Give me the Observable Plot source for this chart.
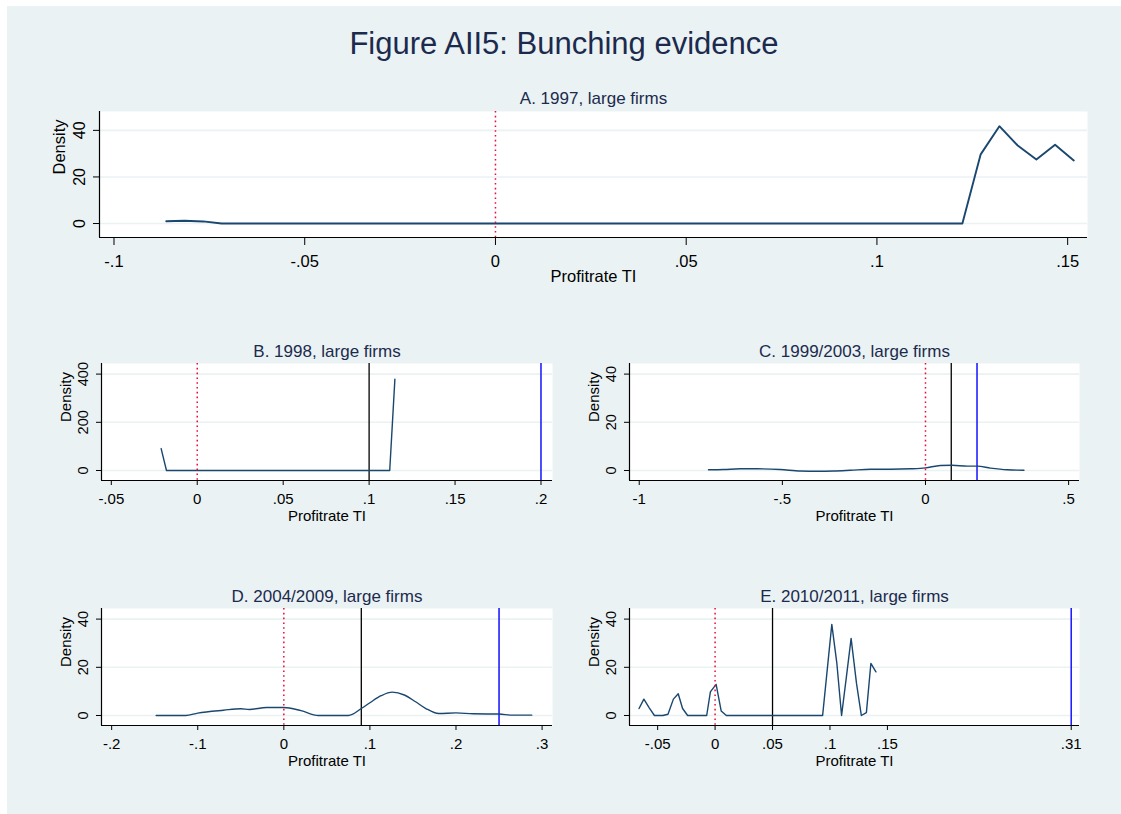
<!DOCTYPE html>
<html>
<head>
<meta charset="utf-8">
<script src="https://cdn.jsdelivr.net/npm/d3@7"></script>
<script src="https://cdn.jsdelivr.net/npm/@observablehq/plot@0.6"></script>
<style>
  html, body { margin: 0; padding: 0; background: #ffffff; }
  #page { position: relative; width: 1121px; height: 814px; overflow: hidden; background: #ffffff;
          font-family: "Liberation Sans", Arial, Helvetica, sans-serif; }
  #bg { position: absolute; left: 7px; top: 6px; width: 1114px; height: 808px; background: #eaf2f3; }
  #title { position: absolute; left: 7px; width: 1114px; top: 28px; text-align: center;
           font-size: 31px; line-height: 31px; color: #1c2a4e; }
  .panel { position: absolute; }
</style>
</head>
<body>
<div id="page">
  <div id="bg"></div>
  <div id="title">Figure AII5: Bunching evidence</div>
</div>
<script>
// ---------------- data ----------------
const panelTitles = ["A. 1997, large firms", "B. 1998, large firms", "C. 1999/2003, large firms",
                     "D. 2004/2009, large firms", "E. 2010/2011, large firms"];
const xTitle = "Profitrate TI";
const yTitle = "Density";

// A. 1997
const aX = [-0.0863, -0.0815, -0.0766, -0.0718, 0.1224, 0.1272, 0.1321, 0.1369, 0.1418, 0.1467, 0.1516];
const aY = [1.0, 1.2, 0.9, 0, 0, 29.7, 41.8, 33.5, 27.5, 33.8, 27.1];
const aXTicks = [-0.1, -0.05, 0, 0.05, 0.1, 0.15];
const aYTicks = [0, 20, 40];
const aBlack = [];
const aBlue = [];

// B. 1998
const bX = [-0.0210, -0.0179, 0.1120, 0.1150];
const bY = [91, 0, 0, 379];
const bXTicks = [-0.05, 0, 0.05, 0.1, 0.15, 0.2];
const bYTicks = [0, 200, 400];
const bBlack = [0.1];
const bBlue = [0.2];

// C. 1999/2003
const cX = [-0.758, -0.705, -0.647, -0.589, -0.507, -0.437, -0.379, -0.321, -0.262, -0.192,
            -0.122, -0.052, 0, 0.052, 0.093, 0.146, 0.181, 0.227, 0.286, 0.344];
const cY = [0.3, 0.4, 0.7, 0.7, 0.4, -0.2, -0.3, -0.2, 0.1, 0.5,
            0.5, 0.7, 1.1, 2.1, 2.2, 1.8, 1.8, 1.0, 0.3, 0.1];
const cXTicks = [-1, -0.5, 0, 0.5];
const cYTicks = [0, 20, 40];
const cBlack = [0.09];
const cBlue = [0.18];

// D. 2004/2009
const dX = [-0.1483, -0.114, -0.1, -0.07, -0.05, -0.04, -0.02, 0, 0.02, 0.04, 0.075, 0.09,
            0.1, 0.113, 0.126, 0.14, 0.153, 0.165, 0.18, 0.2, 0.22, 0.25, 0.265, 0.288];
const dY = [0, 0, 1.0, 2.2, 2.8, 2.5, 3.3, 3.3, 2.0, 0, 0, 2.9,
            5.3, 8.2, 9.7, 8.5, 5.7, 2.9, 0.8, 1.1, 0.7, 0.6, 0.15, 0.15];
const dXTicks = [-0.2, -0.1, 0, 0.1, 0.2, 0.3];
const dYTicks = [0, 20, 40];
const dBlack = [0.09];
const dBlue = [0.25];

// E. 2010/2011
const eX = [-0.0662, -0.062, -0.0573, -0.0528, -0.0454, -0.041, -0.0363, -0.0321, -0.0283, -0.0239,
            -0.0073, -0.0041, 0.0009, 0.0053, 0.0098, 0.0936, 0.1016, 0.106, 0.1101, 0.1143,
            0.1184, 0.1231, 0.1273, 0.1317, 0.1356, 0.14];
const eY = [2.9, 6.8, 3.2, 0, 0, 0.5, 6.8, 9.0, 2.9, 0,
            0, 9.8, 12.9, 1.9, 0, 0, 37.8, 21.6, 0, 16.0,
            32.0, 13.3, 0, 1.2, 21.6, 18.1];
const eXTicks = [-0.05, 0, 0.05, 0.1, 0.15, 0.31];
const eYTicks = [0, 20, 40];
const eBlack = [0.05];
const eBlue = [0.31];

// ---------------- styling / layout ----------------
const NAVY = "#1a476f";
const TITLE_NAVY = "#1c2a4e";
const GRID = "#eaf2f3";
const RED = "#ee0a3c";
const BLUE = "#2020ff";
const FONT = '"Liberation Sans", Arial, Helvetica, sans-serif';

const fmt = d => d === 0 ? "0" : String(d).replace(/^(-?)0\./, "$1.");

function panel(o) {
  const data = o.xs.map((x, i) => ({x, y: o.ys[i]}));
  const svg = Plot.plot({
    width: o.width, height: o.height,
    marginLeft: o.mL, marginRight: o.mR, marginTop: o.mT, marginBottom: o.mB,
    style: {background: "transparent", fontFamily: FONT, color: "black", overflow: "visible"},
    x: {domain: o.xDomain},
    y: {domain: o.yDomain},
    marks: [
      Plot.frame({fill: "white", stroke: "none"}),
      Plot.gridY(o.yTicks, {stroke: GRID, strokeOpacity: 1, strokeWidth: 1.6}),
      Plot.ruleX(o.black, {stroke: "black", strokeWidth: 1.3}),
      Plot.ruleX(o.blue, {stroke: BLUE, strokeWidth: 1.6}),
      Plot.line(data, {x: "x", y: "y", stroke: NAVY, strokeWidth: o.lw, curve: o.curve || "linear"}),
      Plot.ruleX([0], {stroke: RED, strokeWidth: 1.5, strokeDasharray: "1.6,3.2"}),
      Plot.ruleX([o.xDomain[0]], {stroke: "black", strokeWidth: 1.2}),
      Plot.ruleY([o.yDomain[0]], {stroke: "black", strokeWidth: 1.2}),
      Plot.axisX(o.xTicks, {tickSize: o.xTickSize, tickPadding: o.xTickPad, tickFormat: fmt,
                            fontSize: o.fs, label: null, stroke: "black", fill: "black"}),
      Plot.axisY(o.yTicks, {tickSize: o.yTickSize, tickPadding: o.yTickPad, tickRotate: -90,
                            tickFormat: d => String(d), fontSize: o.yfs, label: null,
                            stroke: "black", fill: "black"}),
      Plot.text([o.title], {frameAnchor: "top", dy: -o.titleGap, lineAnchor: "bottom",
                            fill: TITLE_NAVY, fontSize: 17}),
      Plot.text([xTitle], {frameAnchor: "bottom", dy: o.xTitleDy, lineAnchor: "bottom",
                           fill: "black", fontSize: o.fs}),
      Plot.text([yTitle], {frameAnchor: "left", dx: -o.yTitleDx, rotate: -90, lineAnchor: "bottom",
                           fill: "black", fontSize: o.fs})
    ]
  });
  svg.classList.add("panel");
  svg.style.left = o.left + "px";
  svg.style.top = o.top + "px";
  svg.style.position = "absolute";
  document.getElementById("page").appendChild(svg);
}

const small = {width: 580, height: 200, mT: 33, mB: 50, fs: 15, yfs: 14.5, lw: 1.4,
               xTickSize: 5, xTickPad: 8, yTickSize: 5, yTickPad: 9, titleGap: 7,
               xTitleDy: 40, yTitleDx: 31};

panel({xs: aX, ys: aY, xDomain: [-0.1038, 0.1552], yDomain: [-6.0, 48.1],
       xTicks: aXTicks, yTicks: aYTicks, black: aBlack, blue: aBlue, title: panelTitles[0],
       left: 0, top: 80, width: 1121, height: 215, mL: 99, mR: 34, mT: 31, mB: 58,
       fs: 16.5, yfs: 16, lw: 1.9, xTickSize: 8, xTickPad: 10, yTickSize: 6, yTickPad: 9,
       titleGap: 8, xTitleDy: 44, yTitleDx: 35});

panel({...small, xs: bX, ys: bY, xDomain: [-0.0557, 0.2067], yDomain: [-41.5, 444],
       xTicks: bXTicks, yTicks: bYTicks, black: bBlack, blue: bBlue, title: panelTitles[1],
       left: 0, top: 330, mL: 101, mR: 28});

panel({...small, xs: cX, ys: cY, xDomain: [-1.034, 0.538], yDomain: [-4.15, 44.4],
       xTicks: cXTicks, yTicks: cYTicks, black: cBlack, blue: cBlue, title: panelTitles[2],
       left: 560, top: 330, width: 561, mL: 69, mR: 42, curve: "monotone-x"});

panel({...small, xs: dX, ys: dY, xDomain: [-0.2118, 0.3121], yDomain: [-4.15, 44.4],
       xTicks: dXTicks, yTicks: dYTicks, black: dBlack, blue: dBlue, title: panelTitles[3],
       left: 0, top: 575, mL: 101, mR: 28, curve: "monotone-x"});

panel({...small, xs: eX, ys: eY, xDomain: [-0.0745, 0.3172], yDomain: [-4.15, 44.4],
       xTicks: eXTicks, yTicks: eYTicks, black: eBlack, blue: eBlue, title: panelTitles[4],
       left: 560, top: 575, width: 561, mL: 69, mR: 42});
</script>
</body>
</html>
